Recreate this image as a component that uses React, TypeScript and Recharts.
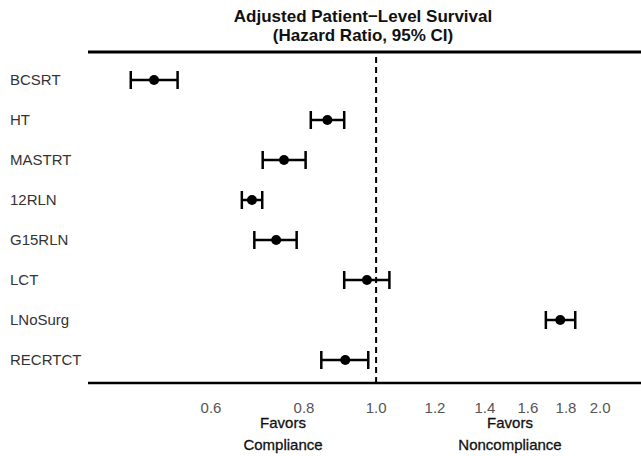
import React from "react";
import {
  ErrorBar,
  ReferenceLine,
  Scatter,
  ScatterChart,
  XAxis,
  YAxis,
} from "recharts";

const categories = ["BCSRT", "HT", "MASTRT", "12RLN", "G15RLN", "LCT", "LNoSurg", "RECRTCT"];
const hazardRatio = [0.503, 0.86, 0.752, 0.681, 0.734, 0.972, 1.768, 0.909];
const lowerCI = [0.468, 0.817, 0.704, 0.66, 0.686, 0.906, 1.691, 0.844];
const upperCI = [0.541, 0.906, 0.804, 0.703, 0.782, 1.042, 1.852, 0.976];
const xTicks = [0.6, 0.8, 1.0, 1.2, 1.4, 1.6, 1.8, 2.0];

const data = categories.map((name, i) => ({
  name,
  idx: i,
  hr: hazardRatio[i],
  err: [hazardRatio[i] - lowerCI[i], upperCI[i] - hazardRatio[i]],
}));

const font = "'Liberation Sans', Arial, sans-serif";

const CategoryTick = ({ y, payload }: any) => (
  <text x={10} y={y} dy="0.35em" textAnchor="start" fill="#333" fontSize={15} fontFamily={font}>
    {categories[payload.value]}
  </text>
);

const Dot = ({ cx, cy }: any) => <circle cx={cx} cy={cy} r={5} fill="#000" />;

const noteStyle: React.CSSProperties = {
  position: "absolute",
  width: 160,
  top: 412,
  textAlign: "center",
  fontSize: 15,
  lineHeight: "22px",
  color: "#111",
  WebkitTextStroke: "0.3px #111",
};

export default function App() {
  return (
    <div style={{ position: "absolute", left: 0, top: 0, width: 641, height: 456, background: "#fff", fontFamily: font }}>
      <div style={{ position: "absolute", left: 0, width: 726, top: 7, textAlign: "center", fontWeight: "bold", fontSize: 17, lineHeight: "19px", color: "#111" }}>
        Adjusted Patient−Level Survival
        <br />
        (Hazard Ratio, 95% CI)
      </div>
      <ScatterChart width={641} height={456} margin={{ top: 52, right: 0, bottom: 43, left: 0 }}>
        <XAxis
          type="number"
          dataKey="hr"
          scale="log"
          domain={[0.41, 2.27]}
          allowDataOverflow
          ticks={xTicks}
          tickFormatter={(v: number) => v.toFixed(1)}
          tickLine={false}
          tickMargin={13}
          height={30}
          tick={{ fill: "#555", fontSize: 15, fontFamily: font }}
          axisLine={{ stroke: "#000", strokeWidth: 2.5 }}
        />
        <YAxis
          type="number"
          dataKey="idx"
          domain={[-0.7, 7.575]}
          reversed
          allowDataOverflow
          ticks={[0, 1, 2, 3, 4, 5, 6, 7]}
          width={88}
          axisLine={false}
          tickLine={false}
          tick={<CategoryTick />}
        />
        <ReferenceLine y={-0.7} stroke="#000" strokeWidth={3} ifOverflow="visible" />
        <ReferenceLine x={1} stroke="#000" strokeWidth={2} strokeDasharray="6 4" />
        <Scatter data={data} shape={<Dot />} isAnimationActive={false}>
          <ErrorBar dataKey="err" direction="x" width={9} stroke="#000" strokeWidth={2.5} />
        </Scatter>
      </ScatterChart>
      <div style={{ ...noteStyle, left: 283 - 80 }}>
        Favors
        <br />
        Compliance
      </div>
      <div style={{ ...noteStyle, left: 510 - 80 }}>
        Favors
        <br />
        Noncompliance
      </div>
    </div>
  );
}
